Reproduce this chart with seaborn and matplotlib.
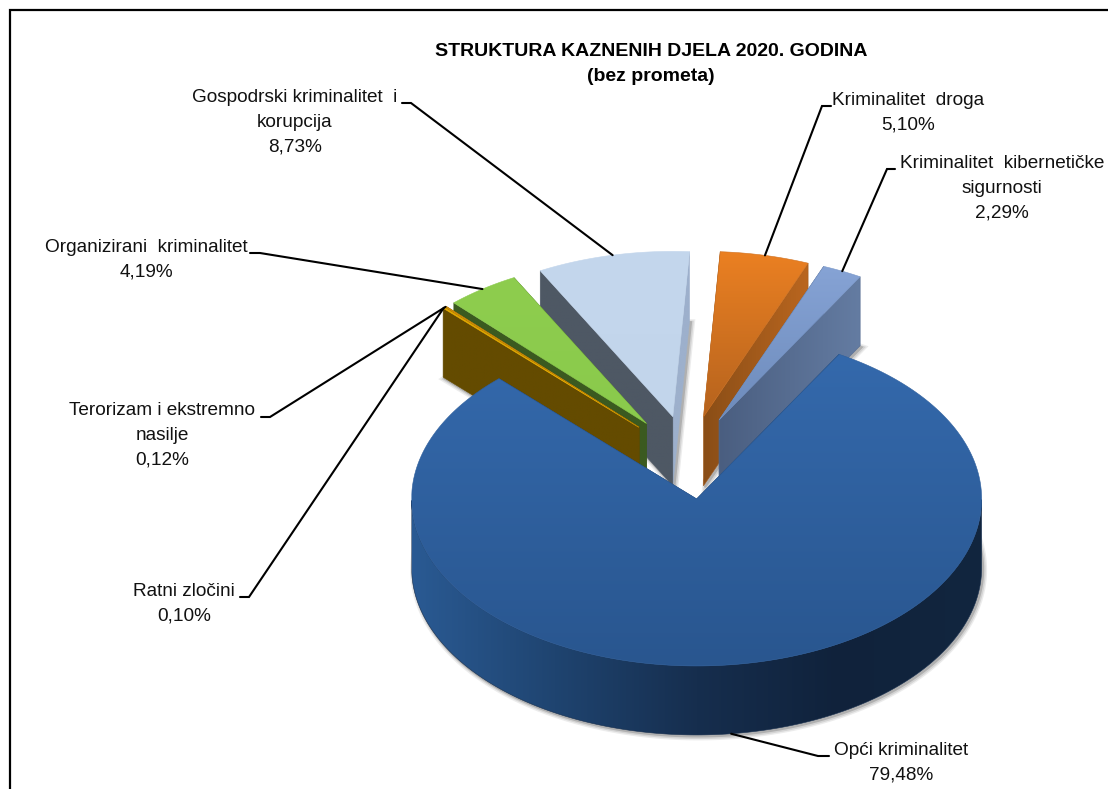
import numpy as np
import matplotlib
matplotlib.use("Agg")
import matplotlib.pyplot as plt
from matplotlib.patches import Polygon
import seaborn as sns

# ---- data ----
categories = ["Kriminalitet  kibernetičke\nsigurnosti", "Kriminalitet  droga",
              "Gospodrski kriminalitet  i\nkorupcija", "Organizirani  kriminalitet",
              "Terorizam i ekstremno\nnasilje", "Ratni zločini", "Opći kriminalitet"]
values = [2.29, 5.10, 8.73, 4.19, 0.12, 0.10, 79.48]
value_labels = ["2,29%", "5,10%", "8,73%", "4,19%", "0,12%", "0,10%", "79,48%"]
title_lines = "STRUKTURA KAZNENIH DJELA 2020. GODINA\n(bez prometa)"

# ---- style ----
top_colors = [["#86A3D5", "#6D8BBB"], ["#EB8022", "#B5631E"], ["#C4D7ED", "#C2D5EB"],
              ["#8ECD4E", "#8ACA4C"], ["#D08C08", "#D08C08"], ["#E8AC00", "#E8AC00"],
              ["#3469AC", "#29568F"]]
wall_low = [["#4A5E80", "#647CA2"], ["#8A4E17", "#BA661F"], ["#9DB0CC", "#9DB0CC"],
            ["#3B5A20", "#3B5A20"], ["#644B00", "#644B00"], ["#644B00", "#644B00"],
            ["#1B3A60", "#1B3A60"]]
wall_high = [["#4A5E80", "#4A5E80"], ["#8A4E17", "#8A4E17"], ["#4E5864", "#4E5864"],
             ["#3B5A20", "#3B5A20"], ["#644B00", "#644B00"], ["#644B00", "#644B00"],
             ["#1B3A60", "#1B3A60"]]
main_wall = ["#2A5A93", "#1F4470", "#162E4E", "#10223B", "#12263F"]
# label centre x, centre y, elbow x, elbow y, line start x
label_pos = [(1002, 188, 887, 169, 895), (908, 113, 822, 106, 831), (295, 122, 411, 103, 402),
             (146, 260, 260, 253, 250), (162, 435, 270, 417, 261), (184, 604, 249, 597, 240),
             (901, 763, 818, 756, 829)]
CX, CY, RX, RY, DEPTH, EXPLODE, START = 688.0, 457.5, 285.0, 167.0, 69.0, 0.25, 60.0
SMALL_SCALE = 0.99

sns.set_theme(style="white")
plt.rcParams["font.family"] = ["Liberation Sans", "DejaVu Sans"]
fig = plt.figure(figsize=(11.08, 7.89), dpi=100)
ax = fig.add_axes([0, 0, 1, 1])
ax.set_axis_off()
ax.set_xlim(0, 1108)
ax.set_ylim(789, 0)

z = [10]


def grad(verts, colors, vertical):
    verts = np.asarray(verts)
    x0, y0 = verts.min(axis=0)
    x1, y1 = verts.max(axis=0)
    cmap = sns.blend_palette(colors, 64, as_cmap=True)
    ramp = np.linspace(0, 1, 256)
    arr = ramp[:, None] if vertical else ramp[None, :]
    z[0] += 1
    patch = Polygon(verts, closed=True, fc="none", ec="none", zorder=z[0])
    ax.add_patch(patch)
    im = ax.imshow(arr, extent=[x0, x1, y1, y0], origin="upper", cmap=cmap, vmin=0, vmax=1,
                   aspect="auto", zorder=z[0], interpolation="bilinear")
    im.set_clip_path(patch)
    # thin edge softens the hard clip boundary
    mid = sns.blend_palette(colors, 3)[1]
    ax.add_patch(Polygon(verts, closed=True, fc="none", ec=mid, lw=0.4, zorder=z[0]))


def pt(s, t, dy=0.0):
    r = np.radians(t)
    c, k = s["c"], s["k"]
    return (c[0] + k * RX * np.cos(r), c[1] - k * RY * np.sin(r) + dy)


frac = np.array(values) / sum(values) * 360.0
edges = START + np.concatenate([[0], np.cumsum(frac)])
slices = []
for i, v in enumerate(values):
    lo, hi = edges[i], edges[i + 1]
    m = np.radians((lo + hi) / 2)
    c = (CX + EXPLODE * RX * np.cos(m), CY - EXPLODE * RY * np.sin(m))
    slices.append(dict(i=i, lo=lo, hi=hi, mid=(lo + hi) / 2, c=c,
                       k=1.0 if v == max(values) else SMALL_SCALE))

# soft drop shadows: the bottom face of each slice, slightly shifted
for lw, col, off in [(5, "#ececec", 2), (3, "#d4d4d4", 2), (1.5, "#b0b0b0", 1.5)]:
    for s in slices:
        ts = np.linspace(s["lo"], s["hi"], 200)
        bottom = np.array([s["c"]] + [pt(s, t) for t in ts]) + [off, DEPTH + off]
        ax.add_patch(Polygon(bottom, closed=True, fc=col, ec=col, lw=lw, zorder=2))

# slices painted back to front
for s in sorted(slices, key=lambda d: d["c"][1]):
    i, c, lo, hi = s["i"], s["c"], s["lo"], s["hi"]
    ts = np.linspace(lo, hi, 400)
    walls = [(hi, wall_high[i]), (lo, wall_low[i])]
    if s["mid"] > 90 and s["mid"] < 180:
        walls = walls[::-1]
    for t, cols in walls:
        b = pt(s, t)
        grad([c, b, (b[0], b[1] + DEPTH), (c[0], c[1] + DEPTH)], cols, False)
    front = ts[np.sin(np.radians(ts)) < 0]
    if len(front):
        upper = [pt(s, t) for t in front]
        lower = [pt(s, t, DEPTH) for t in front[::-1]]
        grad(upper + lower, main_wall, False)
    grad([c] + [pt(s, t) for t in ts], top_colors[i], True)

# leader lines and labels
for s, name, val, (lx, ly, ex, ey, sx) in zip(slices, categories, value_labels, label_pos):
    end = pt(s, s["mid"], DEPTH if np.sin(np.radians(s["mid"])) < 0 else 0)
    ax.plot([sx, ex, end[0]], [ey, ey, end[1]], color="black", lw=1.5, zorder=200,
            solid_joinstyle="miter")
    ax.text(lx, ly, f"{name}\n{val}", ha="center", va="center", fontsize=13.7,
            color="#111111", linespacing=1.6, zorder=201)

ax.text(651, 64, title_lines, ha="center", va="center", fontsize=14.0, fontweight="bold",
        color="black", linespacing=1.55, zorder=201)

# outer chart frame, open on the right and at the bottom of the crop
ax.plot([10, 10, 1108], [789, 10, 10], color="black", lw=1.6, zorder=300, solid_joinstyle="miter")

fig.savefig("out.png", dpi=100, facecolor="white")
